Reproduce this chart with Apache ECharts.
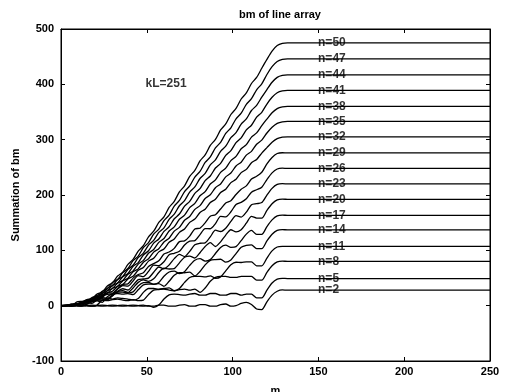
<!DOCTYPE html>
<html>
<head>
<meta charset="utf-8">
<script src="https://cdn.jsdelivr.net/npm/echarts@6/dist/echarts.min.js"></script>
<style>html,body{margin:0;padding:0;background:#fff}#c{width:508px;height:392px}</style>
</head>
<body>
<div id="c"></div>
<script>
const M = [0,3,6,9,12,15,18,21,24,27,30,33,36,39,42,45,48,51,54,57,60,63,66,69,72,75,78,81,84,87,90,93,96,99,102,105,108,111,114,117,120,123,126,129,132,135,250];

const n2 = [0,0,-1,0,1,0,-1,0,1,0, -1,0,1,0,-1,0,1,-1,-1,1, 1,-1,-1,1,2,-1,-1,2,2,-1, -1,2,3,-1,0,4,6,2,-6,-7, 7,19,26,28.5,28,28,28];
const n5 = [0,0,1,0,-1,0,1,0,-1,0, 1,0,-1,0,1,0,-1,0,-3,1, 12,19.6,21,20,19,21,22,19,19,22, 22,19,19,22,22,19,21,21,14,14, 28,41,48,49.5,49,49,49];
const n8 = [0,0,1,0,-1,3,10,11,10,9, 11,12,10,9,11,9,10,20,28,29, 30,28,27,29,30,28,30,24,32,44, 51,53,53,51,51,53,53,53,46,46, 60,72,79,80.5,80,80,80];
const n11 = [0,0,-1,0,1,0,-1,1,10,13, 12,14,13,12,10,13,24,31,31,30, 31,32,27,31,42,51,53,53,52,54, 49.5,52,63,74,78.5,78,79,79,72,72, 86,99,106,107,107,107,107];
const n14 = [0,0,-0.7,6.5,7.8,8.5,7,8.5,6,16, 21.4,22,21,21.8,19.8,28.6,37.6,39,38.8,39.8, 35,44,54.8,59.6,59.5,60.5,53.8,61.8,73.8,81.9, 83.3,83.9,78.6,82.7,94.2,105.5,109.1,110,103,103, 117,129,136,137.4,137,137,137];
const n17 = [0,0,0,0.4,0.1,8.8,10,10,9.7,10.8, 20.6,24.4,24.4,23,24.9,35.6,41.5,41.9,38.5,42, 53.1,60.8,62.3,58.1,61.5,72.8,82.2,85,80.5,83.2, 94.3,105.3,109.3,105.4,106.7,117.6,129.3,135.9,128.9,128.9, 142.9,155,162.2,163.6,163.2,163.2,163];
const n20 = [0,-0.7,2.7,3.2,3.4,2.6,7.9,11.4,12.6,11, 18.2,25.3,27.2,24,32,42.1,46.6,43.8,48.5,60, 67.6,66.3,67.1,77.4,87.6,89.7,86.1,95.7,107,113.9, 106.9,115.4,127.6,137.2,133.3,137.4,149,161.3,158.3,158.1, 172.1,184.1,191.1,192.5,192.1,192,192];
const n23 = [0,0,-0.2,1.3,4.3,4.9,4.4,10.5,14.6,13.7, 17.6,26.2,30.6,28.3,37.1,47,48.2,49.8,60.4,69.9, 66.7,73.5,85,92.6,88.8,98.1,110,112.8,113.6,124.3, 136.4,134,140,152.4,162.6,160.1,169,182.5,184.3,186.3, 199.8,212,219.1,220.5,220.1,220,220];
const n26 = [0,0.6,2.8,2.7,3.6,8.1,8.9,10.3,17.6,20.6, 21.4,30,36.4,35.3,44.7,54.4,52.5,61.9,73.1,72.4, 79.4,92,94.7,98.2,109.6,116.6,117.5,128.3,139.3,139, 148.2,161.3,160.6,169.7,182.7,186.7,193.1,205.1,209.5,214.1, 228,240,247,248.4,248,248,248];
const n29 = [0,0.1,0.1,3.6,3.2,5.7,10.9,9.9,16.2,23.3, 22.8,30.8,38.4,39.4,49.8,56.4,59.3,70.9,75.9,81, 93.4,96.9,103.5,115.7,117.1,125.8,138.7,140,149.7,161.6, 164.3,174.7,185.6,189.8,200.9,210.4,216.5,228.8,233.8,241.1, 256.2,267.9,275,276.4,276,276,276];
const n32 = [0,0.3,0.9,2.3,3.8,7.6,7.5,14,15.2,23.3, 26.1,34.9,38.3,48.4,53.1,63.8,69.1,80.5,85.8,97.2, 102.5,114.5,120.5,132.5,138.5,150.5,156.5,168.5,174.4,186.4, 192.4,204.4,210.4,222.4,228.4,240.4,246.3,258.3,264.3,275.8, 285.7,295.4,301.8,304.4,305,305,305];
const n35 = [0,0.3,1,2.5,4.2,5.2,11.3,12.2,19.7,22.3, 31.6,35,45,49.7,61.1,66.5,78.6,84.7,96.8,103, 115.1,121.9,134.7,141.5,154.3,161.1,174,180.8,193.6,200.4, 213.2,220,232.8,239.7,252.5,259.3,272.1,278.9,291.7,299.1, 312,322.5,329.5,332.3,333,333,333];
const n38 = [0,0.4,1.1,2.7,4.5,8.7,9.1,16.3,18.2,27.3, 31.1,40.9,45.5,56.8,62.9,75,81.9,94.7,101.6,114.4, 121.3,134.9,142.5,156.1,163.7,177.3,184.9,198.6,206.1,219.8, 227.4,241,248.6,262.2,269.8,283.5,291,304.7,312.3,325.4, 337.2,348.6,356.2,359.2,360,360,360];
const n41 = [0,0.4,1.2,2.9,4.9,6.3,13,14.4,22.8,26.4, 36.7,41.1,52.3,58.3,71.1,77.9,91.6,99.2,112.9,120.5, 134.2,142.6,157.1,165.6,180,188.5,203,211.4,225.9,234.4, 248.8,257.3,271.7,280.2,294.7,303.2,317.6,326.1,340.6,349.5, 364.4,376.7,384.9,388.2,389,389,389];
const n44 = [0,0.4,1.3,3.1,5.3,9.8,10.8,18.6,21.3,31.4, 36.2,47.2,52.9,65.6,73.1,86.7,95.1,109.5,117.9,132.3, 140.7,156,165.3,180.6,189.9,205.2,214.5,229.8,239,254.3, 263.6,278.9,288.2,303.5,312.8,328.1,337.4,352.7,362,376.8, 390.6,403.8,412.6,416.1,417,417,417];
const n47 = [0,0.4,1.3,3.3,5.6,7.4,14.7,16.8,25.9,30.4, 41.9,47.3,59.7,67.1,81.3,89.6,104.8,114,129.2,138.4, 153.6,163.7,179.9,190.1,206.2,216.3,232.5,242.6,258.8,268.9, 285.1,295.2,311.3,321.5,337.7,347.8,363.9,374.1,390.2,400.9, 417.8,431.9,441.3,445.1,446,446,446];
const n50 = [0,0.5,1.5,3.5,6,11,12.5,21,24.5,35.5, 41.5,53.5,60.5,74.5,83.5,98.5,108.5,124.5,134.5,150.5, 160.5,177.5,188.5,205.5,216.5,233.5,244.5,261.5,272.5,289.5, 300.5,317.5,328.5,345.5,356.5,373.5,384.5,401.5,412.5,429, 445,460,470,474,475,475,475];

const curves = [n2, n5, n8, n11, n14, n17, n20, n23, n26, n29, n32, n35, n38, n41, n44, n47, n50];
const curveNames = ['n=2','n=5','n=8','n=11','n=14','n=17','n=20','n=23','n=26','n=29','n=32','n=35','n=38','n=41','n=44','n=47','n=50'];
const labelX = 149.5;
const noteText = 'kL=251';
const notePos = [49, 402];
const xTicks = {min: 0, max: 250, step: 50};
const yTicks = {min: -100, max: 500, step: 100};

const FONT = 'Liberation Sans, Arial, sans-serif';
const chart = echarts.init(document.getElementById('c'), null, {renderer: 'canvas'});

const lineSeries = curves.map((ys, k) => ({
  type: 'line',
  name: curveNames[k],
  data: M.map((m, i) => [m, ys[i]]),
  showSymbol: false,
  smooth: 0.25,
  silent: true,
  lineStyle: {color: '#000', width: 1.3},
  z: 2
}));

const labelSeries = {
  type: 'scatter',
  data: curves.map(ys => [labelX, ys[ys.length - 1]]),
  symbol: 'circle',
  symbolSize: 1,
  itemStyle: {color: 'rgba(0,0,0,0)'},
  silent: true,
  z: 5,
  label: {
    show: true,
    position: 'right',
    distance: 0,
    formatter: p => curveNames[p.dataIndex],
    color: '#000',
    fontSize: 12,
    fontWeight: 'bold',
    fontFamily: FONT
  }
};

const noteSeries = {
  type: 'scatter',
  data: [notePos],
  symbolSize: 1,
  itemStyle: {color: 'rgba(0,0,0,0)'},
  silent: true,
  label: {
    show: true, position: 'right', distance: 0,
    formatter: noteText, color: '#000', fontSize: 12, fontWeight: 'bold', fontFamily: FONT
  }
};

const axisCommon = {
  axisLine: {show: true, onZero: false, lineStyle: {color: '#000', width: 1}},
  axisTick: {show: true, inside: true, length: 4, lineStyle: {color: '#000'}},
  splitLine: {show: false}
};

chart.setOption({
  animation: false,
  backgroundColor: '#fff',
  title: {
    text: 'bm of line array',
    left: 275, top: 4, textAlign: 'center',
    textStyle: {fontSize: 11, fontWeight: 'bold', color: '#000', fontFamily: FONT}
  },
  grid: {left: 61, right: 18, top: 29, bottom: 31, show: true, borderColor: '#000', borderWidth: 1,
    backgroundColor: '#fff', containLabel: false, outerBoundsMode: 'none'},
  xAxis: [
    Object.assign({type: 'value', min: xTicks.min, max: xTicks.max, interval: xTicks.step, position: 'bottom',
      name: 'm', nameLocation: 'middle', nameGap: 24,
      nameTextStyle: {fontSize: 11, fontWeight: 'bold', color: '#000', fontFamily: FONT},
      axisLabel: {color: '#000', fontSize: 11, fontWeight: 'bold', margin: 5, fontFamily: FONT}}, axisCommon),
    Object.assign({type: 'value', min: xTicks.min, max: xTicks.max, interval: xTicks.step, position: 'top',
      axisLabel: {show: false}}, axisCommon)
  ],
  yAxis: [
    Object.assign({type: 'value', min: yTicks.min, max: yTicks.max, interval: yTicks.step, position: 'left',
      name: 'Summation of bm', nameLocation: 'middle', nameGap: 36, nameRotate: 90,
      nameTextStyle: {fontSize: 11, fontWeight: 'bold', color: '#000', fontFamily: FONT},
      axisLabel: {color: '#000', fontSize: 11, fontWeight: 'bold', margin: 7, fontFamily: FONT}}, axisCommon),
    Object.assign({type: 'value', min: yTicks.min, max: yTicks.max, interval: yTicks.step, position: 'right',
      axisLabel: {show: false}}, axisCommon)
  ],
  series: lineSeries.concat([labelSeries, noteSeries])
});
</script>
</body>
</html>
